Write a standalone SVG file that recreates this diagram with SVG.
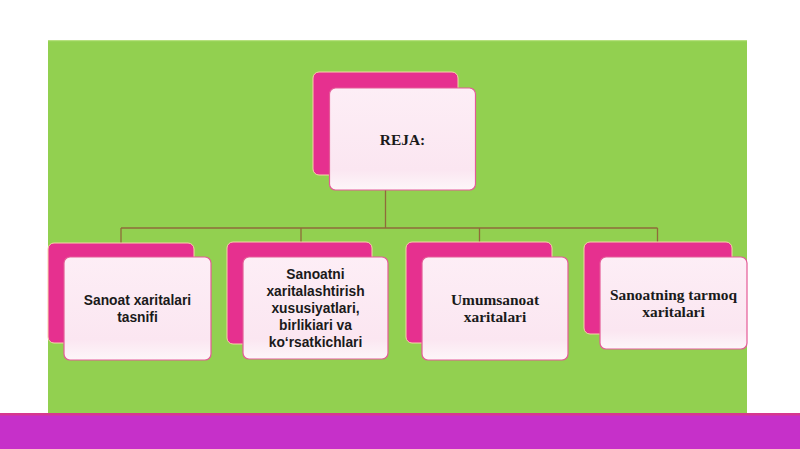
<svg xmlns="http://www.w3.org/2000/svg" width="800" height="449" viewBox="0 0 800 449">
<defs>
<linearGradient id="frontGrad" x1="0" y1="0" x2="0" y2="1">
<stop offset="0" stop-color="#fdeef6"/>
<stop offset="0.8" stop-color="#fbe6f1"/>
<stop offset="1" stop-color="#fdf6f9"/>
</linearGradient>
<style>
.back{fill:#e6308f;stroke:#f6d3a8;stroke-width:1}
.front{fill:url(#frontGrad);stroke:#e45a97;stroke-width:1.2}
.conn{fill:none;stroke:#8f6b3a;stroke-width:1.3}
.sans{font-family:"Liberation Sans","Noto Sans",Arial,sans-serif;font-weight:bold;font-size:13.8px;fill:#1a1a1a;text-anchor:middle}
.serif{font-family:"Liberation Serif","Times New Roman",serif;font-weight:bold;font-size:15.4px;fill:#1a1a1a;text-anchor:middle}
</style>
</defs>
<rect x="0" y="0" width="800" height="449" fill="#ffffff"/>
<rect x="48" y="40" width="699" height="374" fill="#92d050"/>
<rect x="48" y="40" width="699" height="1.2" fill="#b6e07e"/>
<rect x="0" y="414" width="800" height="35" fill="#c630c9"/>
<rect x="0" y="413" width="800" height="2.5" fill="#d6388f"/>

<g id="connectors">
<path class="conn" d="M385.5 190 V228 M121 228 H657.5 M121 228 V243 M301 228 V242 M479.5 228 V242 M657.5 228 V242"/>
</g>

<g id="node-reja">
<rect class="back" x="313" y="72" width="145" height="103" rx="6"/>
<rect class="front" x="329.5" y="88" width="146" height="102" rx="6"/>
<text class="serif" x="402.5" y="145">REJA:</text>
</g>

<g id="node-1">
<rect class="back" x="48" y="243" width="146" height="100" rx="6"/>
<rect class="front" x="64" y="257" width="147" height="103" rx="6"/>
<text class="sans" x="137.5" y="305">Sanoat xaritalari</text>
<text class="sans" x="137.5" y="322">tasnifi</text>
</g>

<g id="node-2">
<rect class="back" x="227" y="242" width="145" height="102" rx="6"/>
<rect class="front" x="243" y="257" width="145" height="102" rx="6"/>
<text class="sans" x="315.5" y="279">Sanoatni</text>
<text class="sans" x="315.5" y="296">xaritalashtirish</text>
<text class="sans" x="315.5" y="313">xususiyatlari,</text>
<text class="sans" x="315.5" y="330">birlikiari va</text>
<text class="sans" x="315.5" y="347">ko‘rsatkichlari</text>
</g>

<g id="node-3">
<rect class="back" x="406" y="242" width="146" height="101" rx="6"/>
<rect class="front" x="422" y="257" width="146" height="103" rx="6"/>
<text class="serif" x="495" y="305">Umumsanoat</text>
<text class="serif" x="495" y="322">xaritalari</text>
</g>

<g id="node-4">
<rect class="back" x="584" y="242" width="148" height="92" rx="6"/>
<rect class="front" x="600" y="257" width="147" height="92" rx="6"/>
<text class="serif" x="673.5" y="300">Sanoatning tarmoq</text>
<text class="serif" x="673.5" y="317">xaritalari</text>
</g>
</svg>
